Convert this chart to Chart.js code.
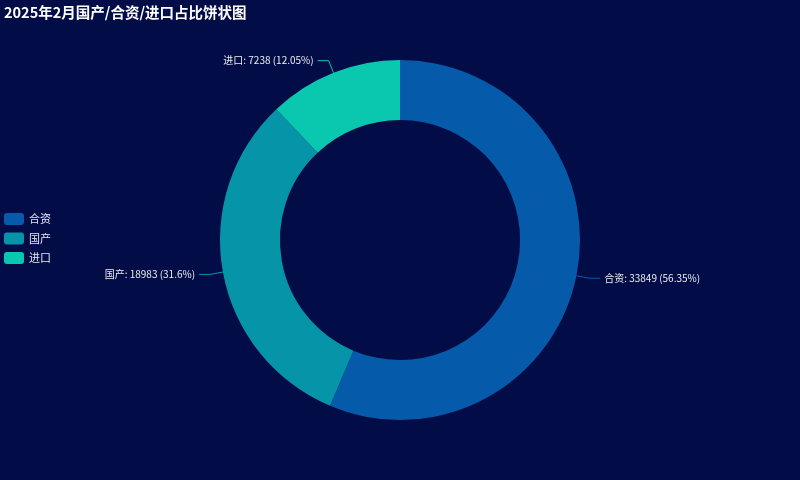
<!DOCTYPE html>
<html>
<head>
<meta charset="utf-8">
<script src="https://cdn.jsdelivr.net/npm/chart.js@4/dist/chart.umd.min.js"></script>
<style>
  html, body { margin: 0; padding: 0; background: #020c46; }
  #wrap { width: 800px; height: 480px; position: relative; }
</style>
</head>
<body>
<div id="wrap"><canvas id="pie"></canvas></div>
<script>
// Data
const TITLE = '2025年2月国产/合资/进口占比饼状图';
const categories = ['合资', '国产', '进口'];
const sales = [33849, 18983, 7238];
const percents = ['56.35%', '31.6%', '12.05%'];
const colors = ['#065aaa', '#0694a8', '#0ac8af'];

const FONT = '"Noto Sans CJK SC", "Noto Sans", sans-serif';

// Title, legend and outside labels
const decorPlugin = {
    id: 'decor',
    afterDraw(chart) {
        const ctx = chart.ctx;
        ctx.save();

        // title
        ctx.fillStyle = '#ffffff';
        ctx.font = 'bold 14.5px ' + FONT;
        ctx.textBaseline = 'middle';
        ctx.textAlign = 'left';
        ctx.fillText(TITLE, 4, 12);

        // legend
        ctx.font = '11px ' + FONT;
        categories.forEach((name, i) => {
            const y = 219 + i * 19.5;
            ctx.fillStyle = colors[i];
            ctx.beginPath();
            ctx.roundRect(4, y - 6, 20, 12, 3);
            ctx.fill();
            ctx.fillStyle = '#e8e8ee';
            ctx.fillText(name, 29, y);
        });

        // labels with leader lines
        const meta = chart.getDatasetMeta(0);
        meta.data.forEach((arc, i) => {
            const mid = (arc.startAngle + arc.endAngle) / 2;
            const dx = Math.cos(mid), dy = Math.sin(mid);
            const r = arc.outerRadius;
            const p0 = { x: arc.x + dx * r, y: arc.y + dy * r };
            const p1 = { x: arc.x + dx * (r + 13), y: arc.y + dy * (r + 13) };
            const side = dx >= 0 ? 1 : -1;
            const p2 = { x: p1.x + side * 11, y: p1.y };

            ctx.strokeStyle = colors[i];
            ctx.lineWidth = 1;
            ctx.beginPath();
            ctx.moveTo(p0.x, p0.y);
            ctx.lineTo(p1.x, p1.y);
            ctx.lineTo(p2.x, p2.y);
            ctx.stroke();

            ctx.fillStyle = '#eeeeee';
            ctx.font = '10px ' + FONT;
            ctx.textAlign = side > 0 ? 'left' : 'right';
            ctx.fillText(`${categories[i]}: ${sales[i]} (${percents[i]})`, p2.x + side * 4, p2.y);
        });

        ctx.restore();
    }
};

new Chart(document.getElementById('pie'), {
    type: 'doughnut',
    data: {
        labels: categories,
        datasets: [{
            data: sales,
            backgroundColor: colors,
            borderWidth: 0,
            hoverOffset: 0
        }]
    },
    options: {
        responsive: true,
        maintainAspectRatio: false,
        animation: false,
        cutout: '66.7%',
        layout: {
            padding: { top: 60, bottom: 60, left: 220, right: 220 }
        },
        plugins: {
            legend: { display: false },
            title: { display: false },
            tooltip: { enabled: false }
        }
    },
    plugins: [decorPlugin]
});
</script>
</body>
</html>
